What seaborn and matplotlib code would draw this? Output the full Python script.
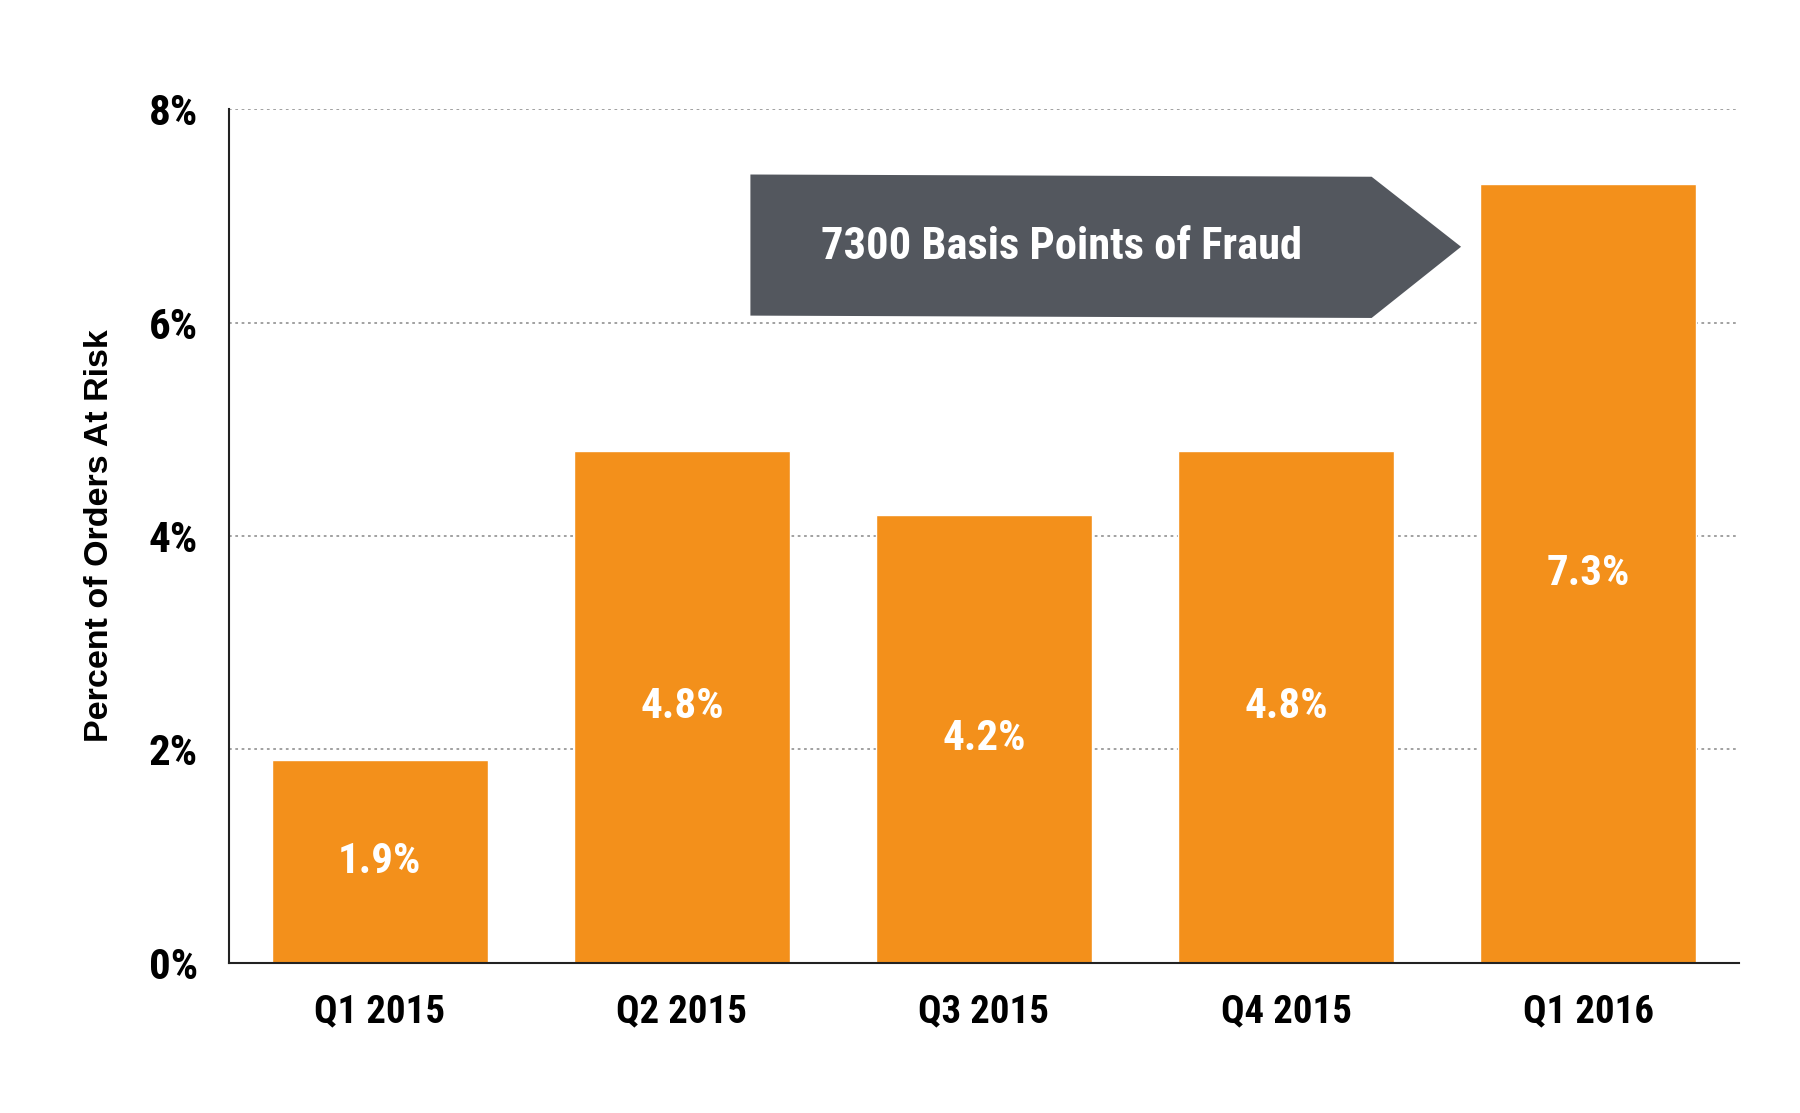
import matplotlib
matplotlib.use("Agg")
import matplotlib.pyplot as plt
from matplotlib.patches import Polygon
import pandas as pd
import seaborn as sns

quarters = ["Q1 2015", "Q2 2015", "Q3 2015", "Q4 2015", "Q1 2016"]
risk_pct = [1.9, 4.8, 4.2, 4.8, 7.3]
y_ticks = [0, 2, 4, 6, 8]
callout_text = "7300 Basis Points of Fraud"

ORANGE = "#F3901B"
ARROW_GRAY = "#53575E"

sns.set_theme(style="white")
narrow = ["Roboto Condensed", "Liberation Sans Narrow", "Liberation Sans", "DejaVu Sans"]
plt.rcParams["font.family"] = narrow
plt.rcParams["text.color"] = "black"
plt.rcParams["xtick.color"] = "black"
plt.rcParams["ytick.color"] = "black"

df = pd.DataFrame({"quarter": quarters, "risk": risk_pct})

fig = plt.figure(figsize=(18, 11.13), dpi=100)
ax = fig.add_axes([0.127, 0.1348, 0.9663 - 0.127, 0.902 - 0.1348])

sns.barplot(data=df, x="quarter", y="risk", color=ORANGE, saturation=1,
            width=0.714, ax=ax, zorder=2)

ax.set_xlim(-0.5, 4.5)
ax.set_ylim(0, 8)
ax.set_yticks(y_ticks)
ax.set_yticklabels([f"{t}%" for t in y_ticks], fontsize=31, fontweight="bold")
ax.tick_params(axis="x", labelsize=28, pad=22, length=0)
ax.tick_params(axis="y", pad=22, length=0)
for lab in ax.get_xticklabels():
    lab.set_fontweight("bold")

ax.yaxis.grid(True, linestyle=(0, (1.5, 2)), color="#9a9a9a", linewidth=1.3, zorder=0)
ax.xaxis.grid(False)
ax.set_axisbelow(True)
for side in ["top", "right"]:
    ax.spines[side].set_visible(False)
for side in ["left", "bottom"]:
    ax.spines[side].set_color("#222222")
    ax.spines[side].set_linewidth(1.5)

ax.set_xlabel("")
ax.set_ylabel("Percent of Orders At Risk", fontsize=24.5, fontweight="bold",
              family=["Liberation Sans", "DejaVu Sans"], color="black", labelpad=24)

# value labels in the middle of each bar
for i, v in enumerate(risk_pct):
    ax.text(i, v / 2, f"{v}%", ha="center", va="center", color="white",
            fontsize=31, fontweight="bold", zorder=3)

# callout arrow
arrow = Polygon([(1.227, 7.387), (3.283, 7.366), (3.579, 6.71), (3.283, 6.043), (1.227, 6.065)],
                closed=True, facecolor=ARROW_GRAY, edgecolor="none", zorder=4)
ax.add_patch(arrow)
ax.text(2.257, 6.71, callout_text, ha="center", va="center", color="white",
        fontsize=32, fontweight="bold", zorder=5)

fig.savefig("out.png", dpi=100, facecolor="white")
